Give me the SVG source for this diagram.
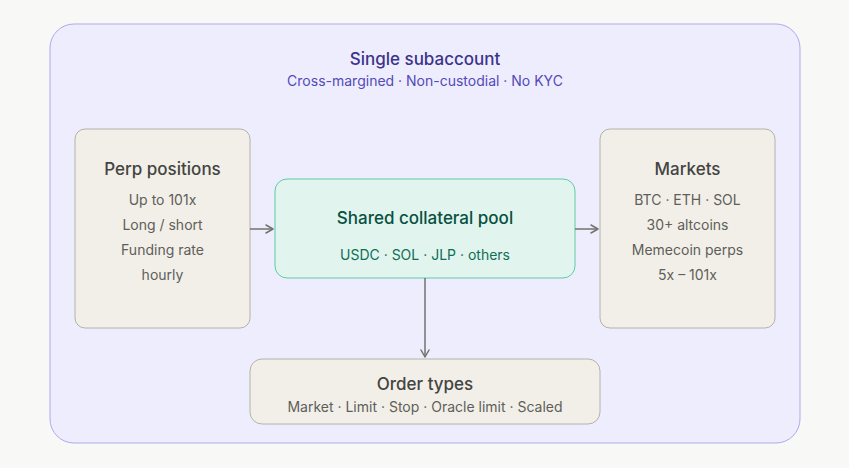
<svg xmlns="http://www.w3.org/2000/svg" width="849" height="468" viewBox="0 0 849 468">
<style>
text{font-family:Inter,"Noto Sans","Liberation Sans",sans-serif;text-anchor:middle}
.box{fill:#f1efe8;stroke:#b4b2a9;stroke-width:1}
.h{font-size:17px;font-weight:500;fill:#444441}
.s{font-size:14px;fill:#5f5e5a}
.c{stroke:#73726c;stroke-width:1.5;fill:none}
</style>
<defs>
<marker id="arr" viewBox="0 0 10 10" refX="8" refY="5" markerWidth="10" markerHeight="10" markerUnits="userSpaceOnUse" orient="auto">
<path d="M1 1L8 5L1 9" fill="none" stroke="#73726c" stroke-width="1.5" stroke-linecap="round" stroke-linejoin="round"/>
</marker>
</defs>
<rect width="849" height="468" fill="#f8f8f6"/>
<g id="subaccount">
<rect x="50" y="24" width="750" height="419" rx="24" fill="#eeedfe" stroke="#afa9ec" stroke-width="1"/>
<text x="425" y="65" style="font-size:17px;font-weight:500;fill:#3c3489">Single subaccount</text>
<text x="425" y="86" style="font-size:14px;fill:#534ab7">Cross-margined · Non-custodial · No KYC</text>
</g>
<g id="perp">
<rect class="box" x="75" y="129" width="175" height="199" rx="10"/>
<text class="h" x="162.5" y="175">Perp positions</text>
<text class="s" x="162.5" y="205">Up to 101x</text>
<text class="s" x="162.5" y="230">Long / short</text>
<text class="s" x="162.5" y="255">Funding rate</text>
<text class="s" x="162.5" y="280">hourly</text>
</g>
<g id="pool">
<rect x="275" y="179" width="300" height="99" rx="12" fill="#e1f5ee" stroke="#5dcaa5" stroke-width="1"/>
<text x="425" y="224" style="font-size:17px;font-weight:500;fill:#085041">Shared collateral pool</text>
<text x="425" y="260" style="font-size:14px;fill:#0f6e56">USDC · SOL · JLP · others</text>
</g>
<g id="markets">
<rect class="box" x="600" y="129" width="175" height="199" rx="10"/>
<text class="h" x="687.5" y="175">Markets</text>
<text class="s" x="687.5" y="205">BTC · ETH · SOL</text>
<text class="s" x="687.5" y="230">30+ altcoins</text>
<text class="s" x="687.5" y="255">Memecoin perps</text>
<text class="s" x="687.5" y="280">5x – 101x</text>
</g>
<g id="orders">
<rect class="box" x="250" y="359" width="350" height="65" rx="12"/>
<text class="h" x="425" y="390">Order types</text>
<text class="s" x="425" y="412">Market · Limit · Stop · Oracle limit · Scaled</text>
</g>
<g id="connectors">
<line class="c" x1="250" y1="229" x2="273" y2="229" marker-end="url(#arr)"/>
<line class="c" x1="575" y1="229" x2="598" y2="229" marker-end="url(#arr)"/>
<line class="c" x1="425" y1="278" x2="425" y2="357" marker-end="url(#arr)"/>
</g>
</svg>
